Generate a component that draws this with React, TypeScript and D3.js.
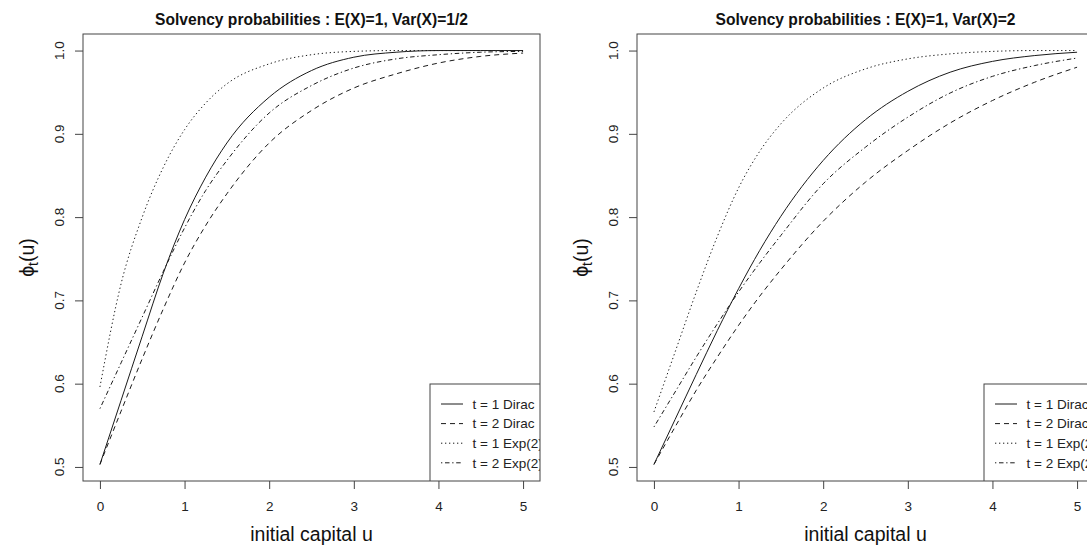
import { useEffect, useRef } from 'react';
import * as d3 from 'd3';

const uValues = [0, 0.25, 0.5, 0.75, 1, 1.25, 1.5, 2, 2.5, 3, 3.5, 4, 4.5, 5];

// left panel : Var(X)=1/2
const leftDirac1 = [0.503, 0.58, 0.657, 0.733, 0.797, 0.848, 0.889, 0.944, 0.976, 0.992, 0.998, 1.0, 1.0, 1.0];
const leftDirac2 = [0.503, 0.567, 0.63, 0.69, 0.745, 0.79, 0.828, 0.889, 0.928, 0.955, 0.972, 0.985, 0.993, 0.997];
const leftExp1 = [0.596, 0.72, 0.8, 0.86, 0.905, 0.937, 0.96, 0.984, 0.995, 0.999, 1.0, 1.0, 1.0, 1.0];
const leftExp2 = [0.57, 0.625, 0.68, 0.735, 0.787, 0.832, 0.868, 0.925, 0.958, 0.979, 0.99, 0.995, 0.998, 0.999];

// right panel : Var(X)=2
const rightDirac1 = [0.503, 0.557, 0.611, 0.664, 0.714, 0.76, 0.801, 0.868, 0.917, 0.951, 0.974, 0.987, 0.994, 0.998];
const rightDirac2 = [0.503, 0.548, 0.592, 0.632, 0.67, 0.705, 0.737, 0.795, 0.842, 0.88, 0.913, 0.94, 0.962, 0.98];
const rightExp1 = [0.566, 0.638, 0.71, 0.777, 0.835, 0.879, 0.912, 0.955, 0.978, 0.99, 0.996, 0.999, 1.0, 1.0];
const rightExp2 = [0.548, 0.59, 0.632, 0.672, 0.71, 0.745, 0.778, 0.84, 0.884, 0.92, 0.949, 0.969, 0.982, 0.991];

const xTicks = [0, 1, 2, 3, 4, 5];
const yTicks = [0.5, 0.6, 0.7, 0.8, 0.9, 1.0];
const legendLabels = ["t = 1 Dirac", "t = 2 Dirac", "t = 1 Exp(2)", "t = 2 Exp(2)"];
const titles = [
  "Solvency probabilities : E(X)=1, Var(X)=1/2",
  "Solvency probabilities : E(X)=1, Var(X)=2",
];

// R style line types: solid, dashed, dotted, dotdash
const dashes = [null, "5,4", "1.3,2.7", "1.3,2.7,4.5,2.7"];

const FONT = "Liberation Sans, Arial, Helvetica, sans-serif";

export default function App() {
  const svgRef = useRef<SVGSVGElement>(null);

  useEffect(() => {
    if (!svgRef.current) return;
    const svg = d3.select(svgRef.current);
    svg.selectAll("*").remove();

    const panelWidth = 554;
    const box = { left: 83, right: 540, top: 34, bottom: 481 };

    const panels = [
      { title: titles[0], series: [leftDirac1, leftDirac2, leftExp1, leftExp2] },
      { title: titles[1], series: [rightDirac1, rightDirac2, rightExp1, rightExp2] },
    ];

    panels.forEach((panel, pi) => {
      const g = svg.append("g").attr("transform", `translate(${pi * panelWidth},0)`);

      // R pads the data range by 4% on each side
      const xPad = (5 - 0) * 0.04;
      const xScale = d3.scaleLinear().domain([0 - xPad, 5 + xPad]).range([box.left, box.right]);
      const allY = panel.series.flat();
      const [yLo, yHi] = d3.extent(allY) as [number, number];
      const yPad = (yHi - yLo) * 0.04;
      const yScale = d3.scaleLinear().domain([yLo - yPad, yHi + yPad]).range([box.bottom, box.top]);

      const clipId = `clip-${pi}`;
      g.append("defs").append("clipPath").attr("id", clipId)
        .append("rect")
        .attr("x", box.left).attr("y", box.top)
        .attr("width", box.right - box.left).attr("height", box.bottom - box.top);

      const plot = g.append("g").attr("clip-path", `url(#${clipId})`);

      const line = d3.line<number>()
        .x((_, i) => xScale(uValues[i]))
        .y(d => yScale(d))
        .curve(d3.curveMonotoneX);

      panel.series.forEach((s, si) => {
        plot.append("path")
          .datum(s)
          .attr("fill", "none")
          .attr("stroke", "#1a1a1a")
          .attr("stroke-width", 1)
          .attr("stroke-dasharray", dashes[si])
          .attr("d", line);
      });

      // legend (bottomright, text gets clipped by the plot region like in R)
      const legend = { left: 430, top: 384, rowH: 19.6, firstY: 404 };
      plot.append("rect")
        .attr("x", legend.left).attr("y", legend.top)
        .attr("width", box.right - legend.left + 2).attr("height", box.bottom - legend.top + 2)
        .attr("fill", "white")
        .attr("stroke", "#444")
        .attr("stroke-width", 1);

      legendLabels.forEach((lab, li) => {
        const y = legend.firstY + li * legend.rowH;
        plot.append("line")
          .attr("x1", 441).attr("x2", 463)
          .attr("y1", y).attr("y2", y)
          .attr("stroke", "#1a1a1a")
          .attr("stroke-dasharray", dashes[li]);
        plot.append("text")
          .attr("x", 472.5).attr("y", y + 4.8)
          .attr("font-family", FONT)
          .attr("font-size", 13.5)
          .attr("fill", "#222")
          .text(lab);
      });

      // box
      g.append("rect")
        .attr("x", box.left).attr("y", box.top)
        .attr("width", box.right - box.left).attr("height", box.bottom - box.top)
        .attr("fill", "none")
        .attr("stroke", "#444")
        .attr("stroke-width", 1);

      // x axis
      const xAxis = g.append("g").attr("transform", `translate(0,${box.bottom})`)
        .call(d3.axisBottom(xScale).tickValues(xTicks).tickSize(8).tickPadding(12).tickFormat(d3.format("d")) as any);
      xAxis.select(".domain").remove();
      xAxis.selectAll("line").attr("stroke", "#444");
      xAxis.selectAll("text")
        .attr("font-family", FONT).attr("font-size", 13.5).attr("fill", "#222");

      // y axis, labels parallel to the axis
      const yAxis = g.append("g").attr("transform", `translate(${box.left},0)`)
        .call(d3.axisLeft(yScale).tickValues(yTicks).tickSize(8).tickFormat(d3.format(".1f")) as any);
      yAxis.select(".domain").remove();
      yAxis.selectAll("line").attr("stroke", "#444");
      yAxis.selectAll("text").remove();
      yTicks.forEach(t => {
        g.append("text")
          .attr("transform", `translate(64,${yScale(t)}) rotate(-90)`)
          .attr("text-anchor", "middle")
          .attr("font-family", FONT).attr("font-size", 13.5).attr("fill", "#222")
          .text(d3.format(".1f")(t));
      });

      // title
      g.append("text")
        .attr("x", (box.left + box.right) / 2).attr("y", 24.5)
        .attr("text-anchor", "middle")
        .attr("font-family", FONT).attr("font-size", 15.6).attr("font-weight", "bold")
        .attr("fill", "#111")
        .text(panel.title);

      // axis titles
      g.append("text")
        .attr("x", (box.left + box.right) / 2).attr("y", 541)
        .attr("text-anchor", "middle")
        .attr("font-family", FONT).attr("font-size", 19.5).attr("fill", "#111")
        .text("initial capital u");

      const yl = g.append("text")
        .attr("transform", `translate(34,${(box.top + box.bottom) / 2}) rotate(-90)`)
        .attr("text-anchor", "middle")
        .attr("font-family", FONT).attr("font-size", 19.5).attr("fill", "#111");
      yl.append("tspan").text("\u03D5");
      yl.append("tspan").attr("font-size", 14).attr("dy", 4).text("t");
      yl.append("tspan").attr("dy", -4).text("(u)");
    });
  }, []);

  return (
    <svg
      ref={svgRef}
      width={1087}
      height={546}
      style={{ position: "absolute", left: 0, top: 0, background: "white" }}
    />
  );
}
